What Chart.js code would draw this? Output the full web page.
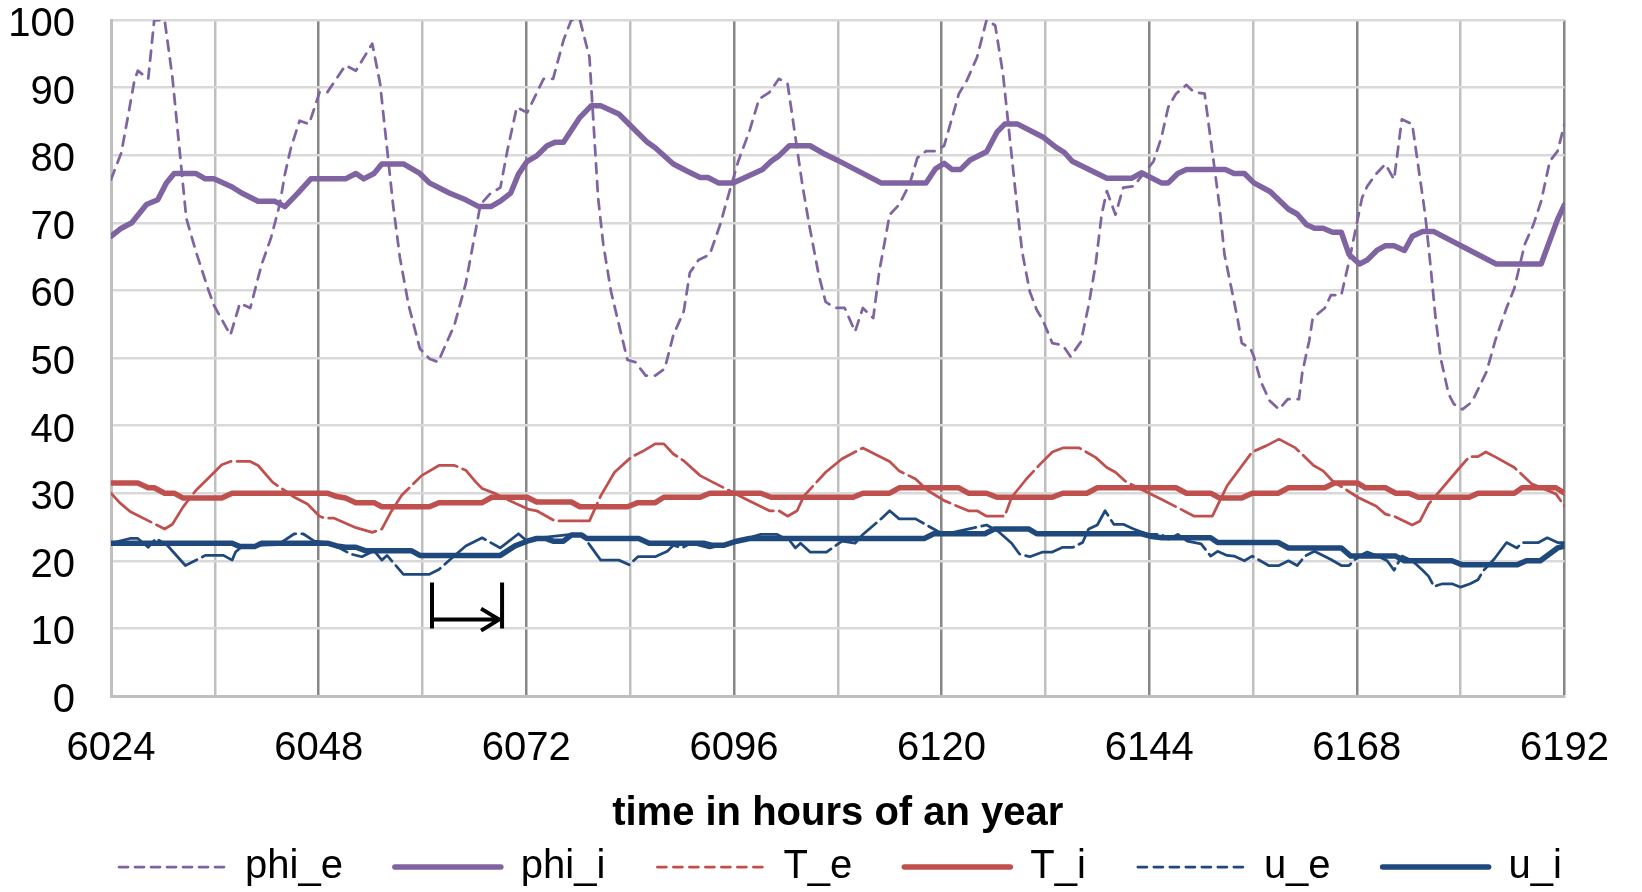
<!DOCTYPE html>
<html>
<head>
<meta charset="utf-8">
<title>phi / T / u over time</title>
<script src="https://cdn.jsdelivr.net/npm/chart.js@4.4.1/dist/chart.umd.min.js"></script>
<style>
  html, body { margin: 0; padding: 0; background: #fff; }
  #wrap { width: 1642px; height: 892px; }
</style>
</head>
<body>
<div id="wrap"><canvas id="chart" width="1642" height="892"></canvas></div>
<script>
/* ── Series data: hour of the year and value ─────────────────────────────── */

const phiEHours = [6024, 6025.2, 6025.8, 6026.7, 6027.1, 6028.3, 6029.0, 6030.2, 6031.1, 6032.7,
  6033.8, 6035.3, 6035.9, 6037.8, 6038.9, 6040.1, 6041.4, 6042.5, 6043.5, 6044.1,
  6044.8, 6045.8, 6046.9, 6048.1, 6049.0, 6051.1, 6052.3, 6054.2, 6055.1, 6056.6,
  6057.4, 6058.4, 6059.7, 6060.8, 6061.8, 6063.7, 6065.0, 6066.7, 6067.9, 6069.0,
  6069.8, 6070.9, 6072.1, 6074.0, 6075.1, 6076.3, 6077.2, 6078.2, 6079.3, 6080.3,
  6080.9, 6081.8, 6082.9, 6083.7, 6084.6, 6085.8, 6086.9, 6088.0, 6089.0, 6090.2,
  6090.9, 6091.9, 6093.2, 6094.4, 6095.5, 6096.5, 6097.8, 6098.9, 6100.1, 6101.2,
  6102.2, 6103.9, 6104.7, 6105.8, 6106.6, 6107.7, 6108.8, 6110.0, 6110.9, 6112.1,
  6112.8, 6114.0, 6115.1, 6116.3, 6117.2, 6118.2, 6119.3, 6120.3, 6122.0, 6122.9,
  6124.1, 6125.2, 6126.2, 6127.1, 6128.7, 6129.3, 6130.2, 6131.0, 6131.7, 6132.8,
  6134.0, 6134.9, 6136.1, 6137.0, 6137.8, 6138.5, 6139.1, 6140.1, 6141.0, 6142.2,
  6143.3, 6144.5, 6145.4, 6146.2, 6147.1, 6148.3, 6149.2, 6150.4, 6152.1, 6152.7,
  6154.2, 6154.7, 6155.7, 6156.1, 6156.9, 6157.9, 6159.0, 6160.0, 6161.3, 6161.7,
  6162.5, 6162.9, 6164.3, 6165.0, 6166.2, 6167.1, 6168.6, 6169.2, 6170.2, 6171.3,
  6172.3, 6173.2, 6174.4, 6175.9, 6176.5, 6177.1, 6177.7, 6178.6, 6179.2, 6180.2,
  6181.3, 6183.0, 6184.0, 6185.3, 6186.2, 6187.4, 6188.4, 6189.3, 6190.3, 6191.2,
  6192];
const phiEValues = [76.4, 80.4, 84.6, 91.0, 92.5, 91.3, 100, 100, 91.5, 70.7,
  65.8, 59.9, 57.8, 53.4, 58.1, 57.4, 63.8, 67.8, 72.7, 77.2,
  81.1, 85.1, 84.6, 89.3, 89.3, 93.3, 92.5, 96.5, 90.6, 72.7,
  64.8, 57.8, 51.4, 49.9, 49.4, 54.9, 61.0, 72.7, 74.4, 75.2,
  80.6, 87.1, 86.3, 91.3, 91.3, 97.0, 100, 100, 94.5, 73.7,
  66.8, 59.8, 53.9, 49.7, 49.4, 47.4, 47.4, 48.4, 53.4, 56.9,
  62.6, 64.5, 65.3, 69.7, 74.7, 79.1, 83.6, 88.3, 89.3, 91.3,
  90.6, 75.7, 69.7, 62.3, 58.3, 57.4, 57.4, 53.9, 57.4, 55.9,
  62.8, 71.2, 72.7, 75.7, 79.6, 80.6, 80.6, 81.4, 89.1, 91.0,
  94.5, 100, 99.2, 92.0, 72.7, 65.8, 59.8, 57.1, 55.6, 52.2,
  51.9, 50.2, 52.4, 57.8, 63.8, 71.2, 74.7, 71.2, 75.2, 75.4,
  77.2, 79.1, 82.6, 87.1, 89.1, 90.4, 89.3, 89.1, 72.7, 65.3,
  55.9, 52.2, 51.4, 50.2, 46.5, 43.7, 42.4, 43.9, 43.9, 47.9,
  52.6, 55.9, 57.4, 59.3, 59.3, 64.3, 73.7, 75.4, 77.2, 78.7,
  76.4, 85.3, 84.6, 71.2, 63.8, 55.9, 49.9, 44.7, 43.2, 42.4,
  43.5, 48.0, 52.6, 57.4, 60.3, 66.8, 69.7, 73.2, 79.1, 80.6,
  84.6];

const phiIHours = [6024, 6025.2, 6026.4, 6028.1, 6029.4, 6030.4, 6031.3, 6033.8, 6034.9, 6035.9,
  6038.0, 6039.1, 6041.0, 6042.9, 6044.1, 6045.6, 6047.1, 6051.1, 6052.3, 6053.2,
  6054.4, 6055.3, 6057.8, 6059.7, 6060.8, 6063.1, 6065.0, 6066.5, 6067.9, 6069.0,
  6070.2, 6071.1, 6072.1, 6073.2, 6074.4, 6075.3, 6076.3, 6078.2, 6079.5, 6080.6,
  6082.7, 6084.5, 6086.0, 6086.9, 6089.0, 6090.5, 6092.1, 6093.0, 6094.2, 6095.9,
  6097.6, 6099.3, 6100.3, 6101.2, 6102.4, 6104.8, 6106.6, 6108.5, 6113.0, 6118.2,
  6119.3, 6120.3, 6121.2, 6122.2, 6123.3, 6125.2, 6126.4, 6127.3, 6128.8, 6131.7,
  6133.2, 6134.2, 6135.1, 6139.1, 6142.0, 6143.1, 6145.4, 6146.2, 6147.3, 6148.3,
  6152.8, 6153.8, 6155.0, 6156.1, 6158.0, 6160.1, 6161.1, 6162.2, 6163.1, 6164.1,
  6165.2, 6166.2, 6167.1, 6168.3, 6169.2, 6170.4, 6171.3, 6172.3, 6173.5, 6174.4,
  6175.6, 6176.9, 6184.1, 6189.3, 6191.2, 6192];
const phiIValues = [68.0, 69.2, 70.0, 72.7, 73.4, 75.9, 77.3, 77.3, 76.5, 76.5,
  75.3, 74.4, 73.2, 73.2, 72.4, 74.4, 76.5, 76.5, 77.3, 76.5,
  77.3, 78.7, 78.7, 77.3, 75.9, 74.4, 73.4, 72.4, 72.4, 73.2,
  74.4, 77.2, 79.1, 79.9, 81.4, 81.9, 81.9, 85.6, 87.3, 87.3,
  86.1, 83.8, 81.9, 81.1, 78.7, 77.7, 76.7, 76.7, 75.9, 75.9,
  76.9, 77.9, 79.1, 79.9, 81.4, 81.4, 80.1, 78.9, 75.9, 75.9,
  78.0, 78.8, 77.9, 77.9, 79.3, 80.5, 83.4, 84.6, 84.6, 82.7,
  81.2, 80.4, 79.1, 76.6, 76.6, 77.4, 75.9, 75.9, 77.3, 77.9,
  77.9, 77.3, 77.3, 75.9, 74.6, 72.0, 71.3, 69.7, 69.2, 69.2,
  68.6, 68.6, 65.3, 63.9, 64.5, 66.0, 66.6, 66.6, 65.9, 68.0,
  68.7, 68.7, 63.9, 63.9, 70.5, 72.7];

const tEHours = [6024, 6025.0, 6026.2, 6030.2, 6031.1, 6032.3, 6033.8, 6035.3, 6036.8, 6037.8,
  6040.1, 6041.0, 6042.7, 6043.5, 6045.2, 6046.7, 6048.1, 6048.7, 6049.8, 6052.3,
  6054.2, 6055.3, 6056.3, 6057.6, 6059.9, 6061.9, 6063.7, 6065.0, 6066.2, 6066.9,
  6068.5, 6069.2, 6072.3, 6073.2, 6075.3, 6079.3, 6080.6, 6082.2, 6084.1, 6085.6,
  6086.9, 6087.9, 6089.0, 6090.2, 6092.1, 6093.6, 6095.9, 6097.4, 6100.1, 6101.2,
  6102.2, 6103.3, 6104.1, 6106.6, 6108.5, 6110.9, 6114.0, 6115.1, 6117.0, 6118.4,
  6120.3, 6123.1, 6124.1, 6125.2, 6127.3, 6128.1, 6129.8, 6131.4, 6132.8, 6134.0,
  6135.9, 6137.8, 6139.1, 6140.1, 6141.2, 6142.7, 6145.4, 6149.2, 6151.3, 6153.0,
  6155.9, 6157.5, 6159.0, 6160.9, 6163.0, 6164.1, 6165.2, 6168.1, 6170.2, 6171.3,
  6172.3, 6174.4, 6175.3, 6176.3, 6179.9, 6181.0, 6182.0, 6182.9, 6184.1, 6186.2,
  6188.2, 6191.0, 6192];
const tEValues = [30.0, 28.6, 27.3, 24.7, 25.4, 27.9, 30.4, 32.3, 34.2, 34.7,
  34.7, 34.1, 31.6, 30.9, 29.4, 28.4, 26.6, 26.3, 26.3, 24.9,
  24.2, 24.7, 27.1, 29.7, 32.6, 34.1, 34.1, 33.4, 31.6, 30.7,
  29.9, 29.4, 27.6, 27.4, 25.9, 25.9, 29.6, 33.1, 35.3, 36.3,
  37.3, 37.3, 35.8, 34.8, 32.6, 31.6, 30.1, 29.1, 27.4, 27.4,
  26.6, 27.4, 29.6, 33.1, 35.1, 36.7, 34.7, 33.3, 32.1, 30.4,
  28.9, 27.4, 27.4, 26.6, 26.6, 29.4, 32.1, 34.3, 36.1, 36.7,
  36.7, 35.3, 33.8, 33.1, 31.8, 30.8, 29.1, 26.6, 26.6, 31.1,
  36.1, 37.0, 38.0, 36.7, 34.1, 33.3, 31.8, 29.4, 28.1, 26.9,
  26.6, 25.3, 25.9, 28.4, 33.8, 35.4, 35.4, 36.1, 35.3, 33.8,
  31.4, 29.9, 28.1];

const tIHours = [6024, 6027.1, 6028.3, 6029.0, 6030.2, 6031.3, 6032.3, 6036.8, 6038.0, 6049.0,
  6050.1, 6051.1, 6052.3, 6054.4, 6055.3, 6060.8, 6061.9, 6066.9, 6068.0, 6072.1,
  6073.2, 6077.2, 6078.2, 6083.7, 6084.9, 6086.9, 6087.9, 6092.1, 6093.2, 6099.1,
  6100.3, 6109.8, 6110.9, 6114.0, 6115.1, 6122.0, 6123.1, 6125.2, 6126.4, 6132.8,
  6134.0, 6136.8, 6138.0, 6147.1, 6148.3, 6151.1, 6152.1, 6154.7, 6155.9, 6158.9,
  6160.1, 6164.3, 6165.4, 6168.1, 6169.0, 6171.3, 6172.5, 6174.0, 6175.1, 6181.0,
  6182.0, 6186.2, 6187.1, 6191.0, 6192];
const tIValues = [31.5, 31.5, 30.8, 30.8, 30.0, 30.0, 29.3, 29.3, 30.0, 30.0,
  29.5, 29.3, 28.6, 28.6, 28.0, 28.0, 28.6, 28.6, 29.4, 29.4,
  28.7, 28.7, 28.0, 28.0, 28.6, 28.6, 29.4, 29.4, 30.0, 30.0,
  29.4, 29.4, 30.0, 30.0, 30.8, 30.8, 30.0, 30.0, 29.4, 29.4,
  30.0, 30.0, 30.8, 30.8, 30.0, 30.0, 29.3, 29.3, 30.0, 30.0,
  30.8, 30.8, 31.5, 31.5, 30.8, 30.8, 30.0, 30.0, 29.4, 29.4,
  30.0, 30.0, 30.8, 30.8, 30.0];

const uEHours = [6024, 6026.2, 6027.1, 6028.3, 6029.2, 6030.5, 6032.6, 6034.9, 6037.0, 6038.0,
  6038.4, 6039.2, 6043.3, 6045.2, 6046.2, 6047.5, 6049.4, 6051.7, 6053.0, 6054.4,
  6055.3, 6055.9, 6057.8, 6060.8, 6061.9, 6063.3, 6065.0, 6066.9, 6069.0, 6071.1,
  6072.1, 6073.5, 6077.2, 6078.4, 6079.3, 6080.6, 6082.7, 6083.9, 6084.9, 6086.9,
  6088.3, 6089.0, 6090.0, 6091.0, 6093.2, 6094.8, 6097.4, 6099.1, 6101.0, 6102.5,
  6103.1, 6103.7, 6104.8, 6106.7, 6108.5, 6110.0, 6110.9, 6113.0, 6114.0, 6115.1,
  6117.0, 6119.5, 6120.3, 6125.2, 6126.5, 6128.1, 6129.0, 6130.2, 6131.7, 6132.8,
  6134.0, 6135.2, 6136.3, 6137.0, 6138.0, 6138.9, 6139.9, 6141.0, 6142.2, 6143.9,
  6145.4, 6146.2, 6147.3, 6148.4, 6150.0, 6151.1, 6151.9, 6153.0, 6153.8, 6155.0,
  6155.9, 6157.8, 6159.0, 6160.1, 6161.1, 6162.0, 6163.1, 6165.0, 6166.2, 6167.1,
  6168.1, 6169.2, 6170.4, 6171.5, 6172.3, 6173.2, 6174.4, 6175.6, 6176.3, 6176.9,
  6177.9, 6179.0, 6180.0, 6181.1, 6182.0, 6182.6, 6183.9, 6185.3, 6186.5, 6187.1,
  6189.0, 6190.0, 6191.2, 6192];
const uEValues = [22.6, 23.3, 23.3, 22.0, 23.3, 22.3, 19.3, 20.8, 20.8, 20.1,
  21.3, 22.2, 22.4, 24.0, 24.0, 22.9, 22.6, 21.0, 20.6, 21.5,
  20.1, 20.8, 18.0, 18.0, 18.7, 20.3, 22.2, 23.4, 21.9, 24.0,
  22.9, 23.4, 23.9, 23.9, 22.4, 20.1, 20.1, 19.4, 20.6, 20.6,
  21.4, 22.3, 21.9, 22.6, 21.9, 22.4, 23.3, 23.9, 23.9, 22.9,
  21.9, 22.6, 21.3, 21.3, 22.9, 22.6, 23.9, 26.2, 27.4, 26.2,
  26.2, 24.4, 23.9, 25.3, 24.4, 22.6, 21.0, 20.6, 21.3, 21.3,
  22.0, 22.0, 22.7, 24.7, 25.3, 27.4, 25.4, 25.4, 24.7, 23.9,
  23.9, 23.2, 23.9, 22.9, 22.5, 20.7, 21.4, 20.8, 20.7, 20.0,
  20.7, 19.3, 19.3, 20.0, 19.3, 20.7, 21.4, 20.2, 19.3, 19.3,
  20.6, 21.3, 20.7, 20.0, 18.6, 20.7, 20.0, 18.6, 17.7, 16.2,
  16.6, 16.6, 16.1, 16.6, 17.2, 18.5, 20.3, 22.7, 21.9, 22.7,
  22.7, 23.4, 22.7, 22.7];

const uIHours = [6024, 6038.0, 6038.9, 6040.6, 6041.4, 6049.0, 6050.1, 6051.1, 6052.3, 6053.4,
  6058.7, 6059.7, 6069.0, 6070.7, 6072.1, 6073.2, 6074.2, 6075.1, 6076.3, 6077.2,
  6078.4, 6079.0, 6085.0, 6086.2, 6092.5, 6093.4, 6094.8, 6096.3, 6097.8, 6118.0,
  6119.1, 6125.0, 6126.1, 6130.1, 6131.0, 6143.1, 6144.3, 6145.5, 6151.1, 6151.9,
  6158.9, 6160.1, 6166.2, 6167.3, 6172.5, 6173.5, 6179.0, 6180.2, 6186.5, 6187.6,
  6189.2, 6191.2, 6192];
const uIValues = [22.6, 22.6, 22.1, 22.1, 22.6, 22.6, 22.2, 22.0, 22.0, 21.5,
  21.5, 20.8, 20.8, 22.2, 22.9, 23.3, 23.3, 22.9, 22.9, 23.8,
  23.8, 23.3, 23.3, 22.6, 22.6, 22.3, 22.3, 22.9, 23.3, 23.3,
  24.0, 24.0, 24.7, 24.7, 24.0, 24.0, 23.6, 23.4, 23.4, 22.7,
  22.7, 21.9, 21.9, 20.7, 20.7, 20.0, 20.0, 19.4, 19.4, 20.0,
  20.0, 21.9, 22.2];

// ── Axes ──────────────────────────────────────────────────────────────────────
const xMin = 6024, xMax = 6192, xGridStep = 12, xLabelStep = 24;
const yMin = 0, yMax = 100, yStep = 10;
const xTitle = 'time in hours of an year';

// shift marker (bracket with arrow) in data units
const shiftFrom = 6061.1, shiftTo = 6069.2;
const shiftY = 11.3, shiftBarLow = 10.0, shiftBarHigh = 16.8;

// ── Style ─────────────────────────────────────────────────────────────────────
const PURPLE = '#8064A2', RED = '#C0504D', BLUE = '#1F497D';
const FONT = '"Liberation Sans", Arial, Helvetica, sans-serif';
const LEGEND_INDENT = 8;   // first legend sample starts this far right of the plot edge
Chart.defaults.font.family = FONT;
Chart.defaults.color = '#000';

function toPoints(hours, values) {
  return hours.map((h, i) => ({ x: h, y: values[i] }));
}

function series(label, hours, values, color, thick, dash, order) {
  return {
    label,
    data: toPoints(hours, values),
    borderColor: color,
    backgroundColor: color,
    borderWidth: thick ? 5.5 : 2.75,
    borderDash: dash,
    borderCapStyle: 'round',
    borderJoinStyle: 'round',
    pointRadius: 0,
    tension: 0,
    fill: false,
    order,
    legendDash: thick ? [] : [9, 7],
  };
}

// ── Shift marker plugin ───────────────────────────────────────────────────────
const shiftMarker = {
  id: 'shiftMarker',
  afterDatasetsDraw(chart) {
    const { ctx, scales: { x, y } } = chart;
    const x0 = x.getPixelForValue(shiftFrom);
    const x1 = x.getPixelForValue(shiftTo);
    const yl = y.getPixelForValue(shiftY);
    const ya = y.getPixelForValue(shiftBarLow);
    const yb = y.getPixelForValue(shiftBarHigh);
    ctx.save();
    ctx.strokeStyle = '#000';
    ctx.lineWidth = 4;
    ctx.beginPath();
    ctx.moveTo(x0, ya); ctx.lineTo(x0, yb);
    ctx.moveTo(x1, ya); ctx.lineTo(x1, yb);
    ctx.moveTo(x0, yl); ctx.lineTo(x1 - 3, yl);
    ctx.moveTo(x1 - 21, yl - 11); ctx.lineTo(x1 - 3, yl); ctx.lineTo(x1 - 21, yl + 11);
    ctx.stroke();
    ctx.restore();
  },
};

// place the single legend row so it starts just right of the plot's left edge
const legendUnderPlot = {
  id: 'legendUnderPlot',
  afterLayout(chart) {
    const lg = chart.legend;
    if (!lg || !lg.lineWidths) return;
    const pad = lg.options.labels.padding;
    const start = chart.chartArea.left + LEGEND_INDENT;
    lg.right = chart.width;
    lg.left = 2 * start - pad - lg.right + lg.lineWidths[0];
    lg.width = lg.right - lg.left;
  },
};

// ── Chart ─────────────────────────────────────────────────────────────────────
new Chart(document.getElementById('chart'), {
  type: 'line',
  data: {
    datasets: [
      series('phi_e', phiEHours, phiEValues, PURPLE, false, [10, 8], 6),
      series('phi_i', phiIHours, phiIValues, PURPLE, true, [], 5),
      series('T_e', tEHours, tEValues, RED, false, [50, 6], 4),
      series('T_i', tIHours, tIValues, RED, true, [], 3),
      series('u_e', uEHours, uEValues, BLUE, false, [50, 6], 2),
      series('u_i', uIHours, uIValues, BLUE, true, [], 1),
    ],
  },
  options: {
    responsive: false,
    animation: false,
    events: [],
    layout: { padding: { top: 20, right: 61, bottom: -5, left: 0 } },
    scales: {
      x: {
        type: 'linear',
        min: xMin,
        max: xMax,
        afterFit: s => { s.height = 99; },
        border: { display: true, color: '#BFBFBF', width: 3 },
        grid: {
          drawTicks: false,
          lineWidth: 2.5,
          color: c => (c.index === 0 ? '#BFBFBF'
            : (c.tick.value % xLabelStep === 0 ? '#868686' : '#BFBFBF')),
        },
        ticks: {
          stepSize: xGridStep,
          autoSkip: false,
          maxRotation: 0,
          padding: 33,
          font: { size: 40, lineHeight: 1 },
          callback: v => (v % xLabelStep === 0 ? String(v) : ''),
        },
        title: {
          display: true,
          text: xTitle,
          font: { size: 40, weight: 'bold', lineHeight: 1 },
          padding: { top: 0, bottom: -39 },
        },
      },
      y: {
        min: yMin,
        max: yMax,
        afterFit: s => {
          s.width = 111;
          s.paddingTop = 20;
          s.paddingBottom = 20;
        },
        border: { display: true, color: '#BFBFBF', width: 3 },
        grid: { drawTicks: false, lineWidth: 2.5, color: '#D9D9D9' },
        ticks: {
          stepSize: yStep,
          padding: 36,
          labelOffset: 5,
          font: { size: 40, lineHeight: 1 },
        },
      },
    },
    plugins: {
      legend: {
        position: 'bottom',
        labels: {
          usePointStyle: true,
          pointStyle: 'line',
          pointStyleWidth: 106,
          padding: 52,
          font: { size: 40 },
          sort: (a, b) => a.datasetIndex - b.datasetIndex,
          generateLabels: chart =>
            Chart.defaults.plugins.legend.labels.generateLabels(chart).map(item => {
              const ds = chart.data.datasets[item.datasetIndex];
              return Object.assign(item, {
                pointStyle: 'line',
                lineDash: ds.legendDash,
                lineCap: 'round',
                lineWidth: ds.borderWidth,
                strokeStyle: ds.borderColor,
              });
            }),
        },
      },
      tooltip: { enabled: false },
    },
  },
  plugins: [shiftMarker, legendUnderPlot],
});
</script>
</body>
</html>
